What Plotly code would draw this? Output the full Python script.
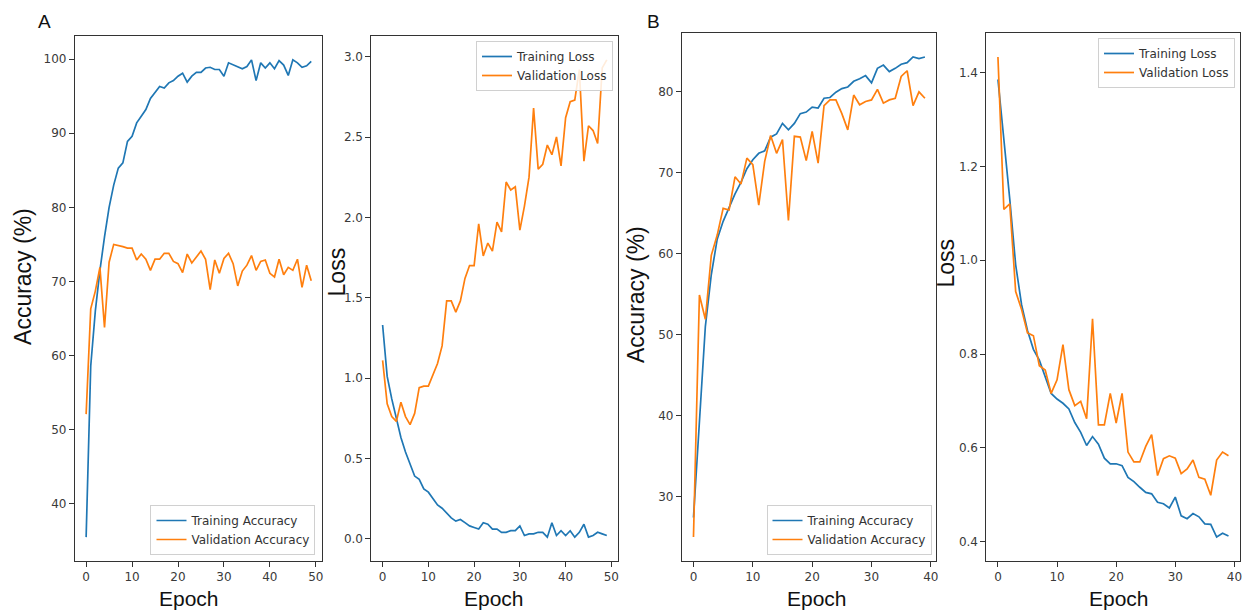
import plotly.graph_objects as go

W, H = 1247, 613

# ---------------- data ----------------
epochs_a = list(range(50))
epochs_b = list(range(40))

a_train_acc = [35.5, 58.6, 66.0, 71.5, 76.0, 80.0, 83.0, 85.3, 86.0, 88.9,
               89.6, 91.4, 92.3, 93.2, 94.7, 95.5, 96.3, 96.1, 96.8, 97.1,
               97.7, 98.1, 96.9, 97.7, 98.2, 98.2, 98.8, 98.9, 98.6, 98.6,
               97.7, 99.5, 99.2, 99.0, 98.7, 99.0, 99.9, 97.1, 99.5, 98.8,
               99.5, 98.7, 99.8, 99.2, 97.8, 99.9, 99.5, 98.9, 99.1, 99.7]
a_val_acc = [52.1, 66.3, 68.7, 71.9, 63.8, 72.6, 75.0, 74.9, 74.7, 74.5,
             74.5, 72.9, 73.7, 73.0, 71.5, 73.0, 73.0, 73.8, 73.8, 72.7,
             72.4, 71.2, 73.7, 72.5, 73.3, 74.1, 73.0, 68.9, 72.9, 71.1,
             73.1, 73.8, 72.4, 69.4, 71.4, 72.2, 73.5, 71.5, 72.7, 72.9,
             71.1, 70.6, 73.0, 70.9, 71.9, 71.5, 73.0, 69.2, 72.2, 70.1]
a_train_loss = [1.33, 1.01, 0.87, 0.74, 0.63, 0.54, 0.46, 0.39, 0.37, 0.31,
                0.29, 0.25, 0.21, 0.19, 0.16, 0.13, 0.11, 0.12, 0.10, 0.08,
                0.07, 0.06, 0.10, 0.09, 0.06, 0.06, 0.04, 0.04, 0.05, 0.05,
                0.08, 0.02, 0.03, 0.03, 0.04, 0.04, 0.01, 0.10, 0.02, 0.05,
                0.02, 0.05, 0.01, 0.04, 0.09, 0.01, 0.02, 0.04, 0.03, 0.02]
a_val_loss = [1.11, 0.84, 0.76, 0.73, 0.85, 0.76, 0.71, 0.78, 0.94, 0.95,
              0.95, 1.02, 1.09, 1.20, 1.48, 1.48, 1.41, 1.48, 1.62, 1.70,
              1.70, 1.96, 1.76, 1.84, 1.79, 1.97, 1.91, 2.22, 2.17, 2.19,
              1.92, 2.07, 2.25, 2.68, 2.30, 2.33, 2.45, 2.39, 2.50, 2.32,
              2.62, 2.72, 2.73, 2.92, 2.35, 2.57, 2.54, 2.46, 2.93, 2.98]

b_train_acc = [27.4, 39.5, 51.0, 57.4, 61.8, 64.0, 65.7, 67.4, 68.8, 70.5,
               71.6, 72.4, 72.7, 74.4, 74.8, 76.1, 75.3, 76.1, 77.3, 77.5,
               78.1, 78.0, 79.2, 79.3, 79.95, 80.4, 80.6, 81.3, 81.6, 82.0,
               81.1, 82.9, 83.3, 82.5, 82.9, 83.4, 83.6, 84.3, 84.1, 84.3]
b_val_acc = [25.0, 54.9, 51.9, 59.8, 62.3, 65.6, 65.4, 69.5, 68.6, 71.8,
             71.0, 66.0, 71.4, 74.6, 72.4, 74.1, 64.1, 74.5, 74.4, 71.5,
             75.1, 71.2, 78.3, 79.0, 79.0, 77.3, 75.3, 79.6, 78.4, 78.8,
             79.0, 80.3, 78.6, 79.0, 79.2, 81.9, 82.6, 78.3, 80.0, 79.2]
b_train_loss = [1.385, 1.26, 1.13, 0.99, 0.905, 0.85, 0.81, 0.787, 0.753, 0.716,
                0.704, 0.695, 0.683, 0.654, 0.633, 0.605, 0.624, 0.608, 0.578, 0.566,
                0.566, 0.562, 0.537, 0.528, 0.516, 0.505, 0.502, 0.484, 0.481, 0.472,
                0.495, 0.455, 0.449, 0.460, 0.453, 0.438, 0.437, 0.410, 0.418, 0.412]
b_val_loss = [1.433, 1.108, 1.12, 0.933, 0.895, 0.845, 0.839, 0.775, 0.766, 0.716,
              0.745, 0.82, 0.724, 0.69, 0.699, 0.662, 0.875, 0.649, 0.649, 0.716,
              0.653, 0.716, 0.591, 0.57, 0.57, 0.603, 0.628, 0.541, 0.577, 0.583,
              0.578, 0.545, 0.555, 0.574, 0.537, 0.533, 0.499, 0.574, 0.591, 0.583]

BLUE = "#1f77b4"
ORANGE = "#ff7f0e"
AX = "#333333"
TICKFONT = dict(family="DejaVu Sans", size=12, color="#3a3a3a")
TITLEFONT = "Liberation Sans"


def px_x(p):
    return p / W


def px_y(p):
    return 1 - p / H


def auto_range(*series):
    lo = min(min(s) for s in series)
    hi = max(max(s) for s in series)
    m = (hi - lo) * 0.05
    return [lo - m, hi + m]


fig = go.Figure()

panels = [
    ("", epochs_a, a_train_acc, a_val_acc, "Training Accuracy", "Validation Accuracy", "legend"),
    ("2", epochs_a, a_train_loss, a_val_loss, "Training Loss", "Validation Loss", "legend2"),
    ("3", epochs_b, b_train_acc, b_val_acc, "Training Accuracy", "Validation Accuracy", "legend3"),
    ("4", epochs_b, b_train_loss, b_val_loss, "Training Loss", "Validation Loss", "legend4"),
]

for suf, xs, tr, va, ntr, nva, leg in panels:
    fig.add_trace(go.Scatter(x=xs, y=tr, mode="lines", name=ntr,
                             line=dict(color=BLUE, width=1.7),
                             xaxis="x" + suf, yaxis="y" + suf, legend=leg))
    fig.add_trace(go.Scatter(x=xs, y=va, mode="lines", name=nva,
                             line=dict(color=ORANGE, width=1.7),
                             xaxis="x" + suf, yaxis="y" + suf, legend=leg))

# frames in pixels: (left, right, top, bottom)
frames = {
    "": (75, 323, 36, 561),
    "2": (372, 619, 36, 561),
    "3": (683, 938, 33, 561),
    "4": (988, 1242, 33, 561),
}

common = dict(showline=True, mirror=True, linecolor=AX, linewidth=1,
              ticks="outside", ticklen=5, tickwidth=1, tickcolor=AX,
              showgrid=False, zeroline=False, tickfont=TICKFONT)

yinfo = {
    "": dict(dtick=10, tick0=0, range=auto_range(a_train_acc, a_val_acc)),
    "2": dict(dtick=0.5, tick0=0, tickformat=".1f", range=auto_range(a_train_loss, a_val_loss)),
    "3": dict(dtick=10, tick0=0, range=auto_range(b_train_acc, b_val_acc)),
    "4": dict(dtick=0.2, tick0=0, tickformat=".1f", range=auto_range(b_train_loss, b_val_loss)),
}
xinfo = {
    "": auto_range(epochs_a),
    "2": auto_range(epochs_a),
    "3": auto_range(epochs_b),
    "4": auto_range(epochs_b),
}

layout_axes = {}
for suf, (l, r, t, b) in frames.items():
    layout_axes["xaxis" + suf] = dict(domain=[px_x(l), px_x(r)], anchor="y" + suf,
                                      range=xinfo[suf], dtick=10, tick0=0, **common)
    layout_axes["yaxis" + suf] = dict(domain=[px_y(b), px_y(t)], anchor="x" + suf,
                                      **yinfo[suf], **common)

legend_style = dict(bgcolor="rgba(255,255,255,0.85)", bordercolor="#d0d0d0",
                    borderwidth=1, font=dict(family="DejaVu Sans", size=12, color="#333333"),
                    itemwidth=30, tracegroupgap=0)

fig.update_layout(
    width=W, height=H,
    margin=dict(l=0, r=0, t=0, b=0),
    paper_bgcolor="white", plot_bgcolor="white",
    showlegend=True,
    legend=dict(x=px_x(316), y=px_y(555), xanchor="right", yanchor="bottom", **legend_style),
    legend2=dict(x=px_x(614), y=px_y(41), xanchor="right", yanchor="top", **legend_style),
    legend3=dict(x=px_x(933), y=px_y(555), xanchor="right", yanchor="bottom", **legend_style),
    legend4=dict(x=px_x(1237), y=px_y(38), xanchor="right", yanchor="top", **legend_style),
    **layout_axes,
)

annots = [
    ("A", 45, 21, 0, 19),
    ("B", 655, 21, 0, 19),
    ("Accuracy (%)", 23, 276, -90, 23),
    ("Loss", 338, 272, -90, 23),
    ("Accuracy (%)", 637, 294, -90, 23),
    ("Loss", 948, 263, -90, 23),
    ("Epoch", 189, 598, 0, 21),
    ("Epoch", 495, 598, 0, 21),
    ("Epoch", 818, 598, 0, 21),
    ("Epoch", 1121, 598, 0, 21),
]
for txt, x, y, ang, size in annots:
    fig.add_annotation(text=txt, x=px_x(x), y=px_y(y), xref="paper", yref="paper",
                       xanchor="center", yanchor="middle", textangle=ang, showarrow=False,
                       font=dict(family=TITLEFONT, size=size, color="#111111"))

fig.write_html("out.html",
               config={"displayModeBar": False},
               post_script="document.body.style.margin='0';document.body.style.overflow='hidden';")
